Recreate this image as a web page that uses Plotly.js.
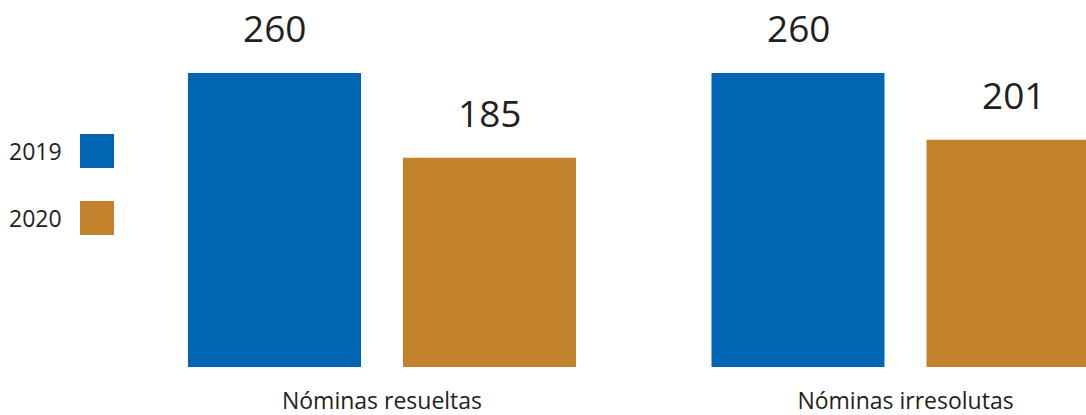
<!DOCTYPE html>
<html>
<head>
<meta charset="utf-8">
<script src="https://cdn.plot.ly/plotly-3.0.1.min.js"></script>
<style>html,body{margin:0;padding:0;background:#fff;}#chart{width:1086px;height:415px;}</style>
</head>
<body>
<div id="chart"></div>
<script>
const categories = ["Nóminas resueltas", "Nóminas irresolutas"];
const seriesNames = ["2019", "2020"];
const values2019 = [260, 260];
const values2020 = [185, 201];
const colors = ["#0066b3", "#c2812b"];

const W = 1086, H = 415, B = 48;
const plotH = H - B;
const FONT = "Open Sans, Noto Sans, sans-serif";
const TXT = "#231f20";

// axis geometry
const unit = 523.5;            // px per category
const c0 = 382;                // pixel of first category
const r0 = -c0 / unit;
const r1 = r0 + W / unit;
const pxPerVal = 294 / 260;
const yMax = plotH / pxPerVal;

const allSeries = [values2019, values2020];
const traces = allSeries.map((vals, i) => ({
  type: "bar",
  name: seriesNames[i],
  x: categories,
  y: vals,
  marker: {color: colors[i]},
  showlegend: false,
  hoverinfo: "skip"
}));

const slot = 215 / unit;
const annotations = [];
allSeries.forEach((vals, i) => {
  vals.forEach((v, j) => {
    annotations.push({
      x: j + (i - 0.5) * slot, xref: "x",
      y: v, yref: "y",
      text: String(v), showarrow: false,
      yanchor: "bottom", yshift: 18,
      font: {family: FONT, size: 37, color: TXT}
    });
  });
});

// custom legend: label left, swatch right
const legendY = [151, 218];
const shapes = [];
seriesNames.forEach((n, i) => {
  const cy = legendY[i];
  annotations.push({
    x: 64 / W, xref: "paper", xanchor: "right",
    y: (plotH - cy) / plotH, yref: "paper", yanchor: "middle",
    text: n, showarrow: false,
    font: {family: FONT, size: 23, color: TXT}
  });
  shapes.push({
    type: "rect", xref: "paper", yref: "paper",
    x0: 80 / W, x1: 114 / W,
    y0: (plotH - (cy + 17)) / plotH, y1: (plotH - (cy - 17)) / plotH,
    fillcolor: colors[i], line: {width: 0}
  });
});

const layout = {
  width: W, height: H,
  margin: {l: 0, r: 0, t: 0, b: B, pad: 0},
  paper_bgcolor: "#fff", plot_bgcolor: "#fff",
  barmode: "group",
  bargap: (unit - 430) / unit,
  bargroupgap: 42 / 215,
  xaxis: {
    type: "category", range: [r0, r1],
    showgrid: false, zeroline: false, showline: false, ticks: "",
    tickfont: {family: FONT, size: 23, color: TXT},
    ticklabelstandoff: 18
  },
  yaxis: {
    range: [0, yMax], visible: false, showgrid: false, zeroline: false
  },
  annotations: annotations,
  shapes: shapes,
  font: {family: FONT, color: TXT}
};

Plotly.newPlot("chart", traces, layout, {staticPlot: true, displayModeBar: false});
</script>
</body>
</html>
